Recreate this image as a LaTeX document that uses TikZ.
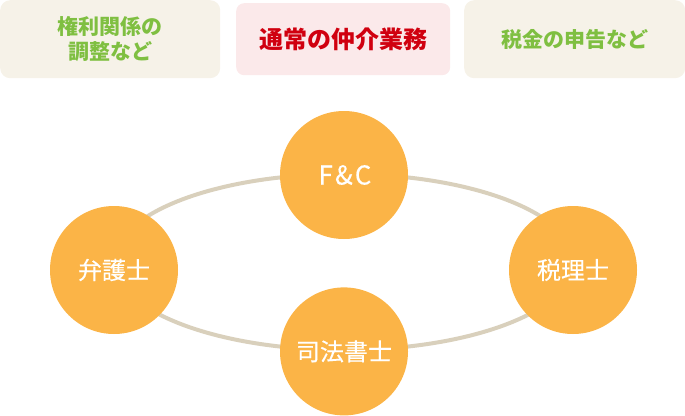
\documentclass[tikz,border=0pt]{standalone}
\usepackage{fontspec}
\setmainfont{Noto Sans CJK JP}
\newfontfamily\ballfont{Noto Sans CJK JP}[FakeBold=0.3]
\newfontfamily\fcfont{Noto Sans CJK JP}[FakeBold=0.3,LetterSpace=8]
\usepackage{tikz}
\usetikzlibrary{positioning}
\definecolor{ringline}{HTML}{D9D0BC}
\definecolor{orangeball}{HTML}{FBB447}
\definecolor{greentext}{HTML}{7FBF41}
\definecolor{redtext}{HTML}{D0000F}
\definecolor{creambox}{HTML}{F6F2E8}
\definecolor{pinkbox}{HTML}{FBE9EA}

\begin{document}
\begin{tikzpicture}[
        x=1pt, y=-1pt,
        note/.style={rectangle,rounded corners=10pt,fill=creambox,inner sep=0pt,
            minimum width=220pt,minimum height=78pt,anchor=north west,align=center,
            text=greentext,font=\fontsize{21}{25}\selectfont\bfseries},
        main/.style={note,fill=pinkbox,rounded corners=8pt,minimum width=214pt,
            minimum height=72pt,text=redtext,font=\fontsize{24}{26}\selectfont\bfseries},
        ball/.style={circle,fill=orangeball,minimum size=128pt,inner sep=0pt,
            text=white,font=\ballfont\fontsize{24}{26}\selectfont},
        ring/.style={draw=ringline,line width=4pt}
    ]
    \useasboundingbox (0,0) rectangle (685,415);
    % top notes
    \node[note] (noteL) at (0,0) {権利関係の\\調整など};
    \node[main] (noteM) at (236,3) {通常の仲介業務};
    \node[note,minimum width=221pt] (noteR) at (464,0) {税金の申告など};
    % ring behind the balls
    \coordinate (mid) at (344,262);
    \draw[ring] (mid) ellipse [x radius=230, y radius=88];
    % balls
    \node[ball,font=\fcfont\fontsize{26}{26}\selectfont] (FC) at (344,175) {F\&C\kern-2pt};
    \node[ball,below=48pt of FC] (Shiho) {司法書士};
    \node[ball] (Bengo) at (114,270) {弁護士};
    \node[ball] (Zeiri) at (573,270) {税理士};
\end{tikzpicture}
\end{document}
